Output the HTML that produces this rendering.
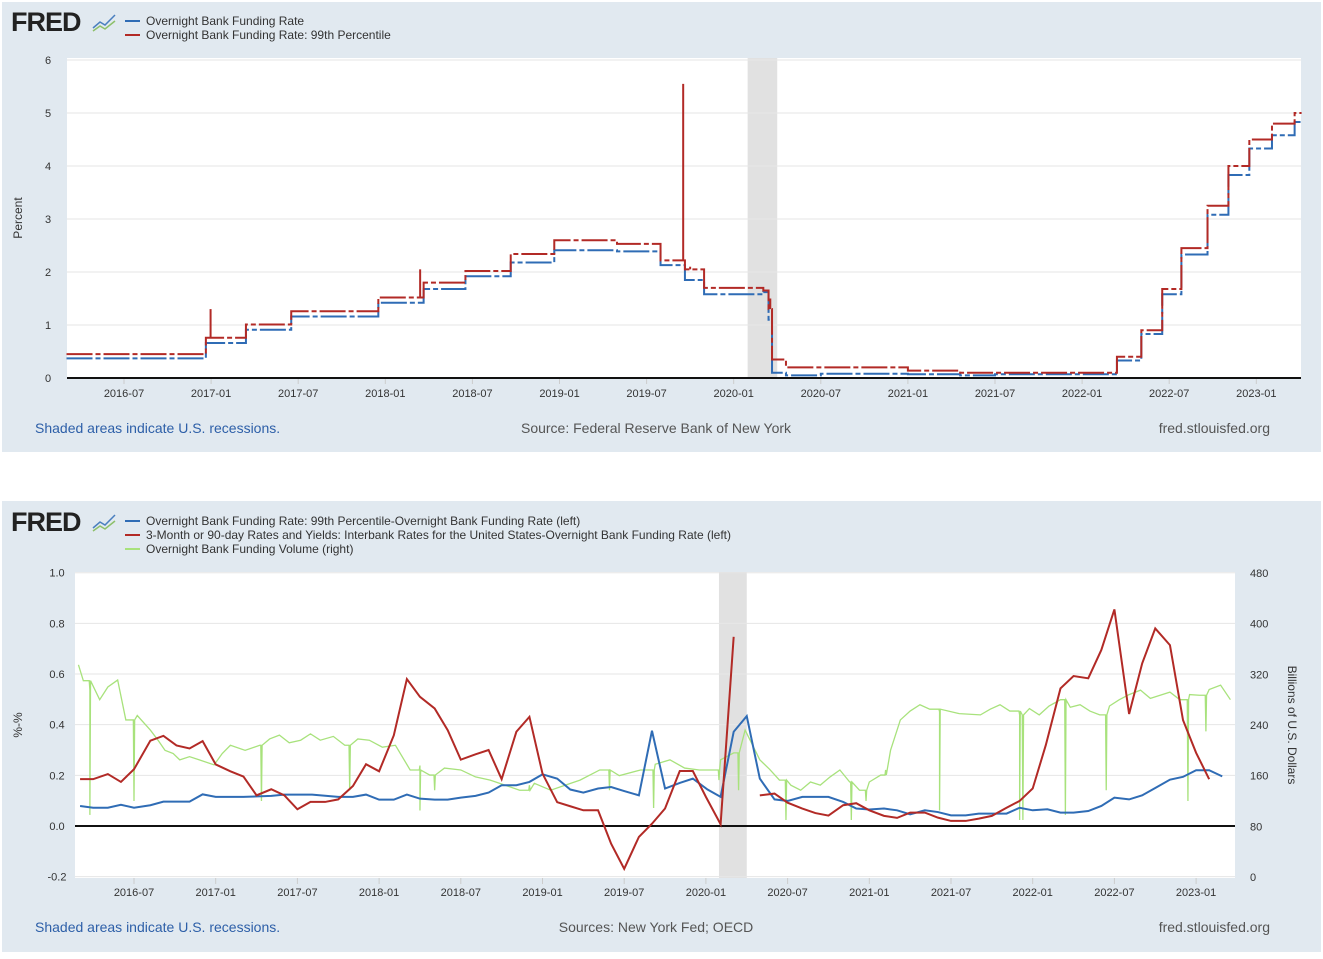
<!DOCTYPE html>
<html><head><meta charset="utf-8">
<style>
body{margin:0;background:#fff;width:1323px;height:954px;overflow:hidden;font-family:"Liberation Sans",sans-serif;}
svg text{font-family:"Liberation Sans",sans-serif;}
</style></head>
<body>
<svg id="page" width="1323" height="954" xmlns="http://www.w3.org/2000/svg">
<rect x="2" y="2" width="1319" height="450" fill="#e1e9f0"/>
<rect x="2" y="501" width="1319" height="451" fill="#e1e9f0"/>
<rect x="67" y="58" width="1234" height="320" fill="#fff"/>
<rect x="75" y="572" width="1160" height="306" fill="#fff"/>

<g>
<text x="11" y="31" font-size="27" font-weight="bold" fill="#222" letter-spacing="-1">FRED</text>
<path d="M93 28 L100 22 L105 25 L115 15" stroke="#4a7fbf" stroke-width="1.5" fill="none"/>
<path d="M93 31 L100 26 L105 29 L115 21" stroke="#8dc06a" stroke-width="1.5" fill="none"/>
<line x1="125" y1="21" x2="140" y2="21" stroke="#2f6cb5" stroke-width="2"/>
<text x="146" y="25" font-size="12" fill="#333">Overnight Bank Funding Rate</text>
<line x1="125" y1="35" x2="140" y2="35" stroke="#b22a26" stroke-width="2"/>
<text x="146" y="39" font-size="12" fill="#333">Overnight Bank Funding Rate: 99th Percentile</text>
</g>
<g>
<text x="11" y="531" font-size="27" font-weight="bold" fill="#222" letter-spacing="-1">FRED</text>
<path d="M93 528 L100 522 L105 525 L115 515" stroke="#4a7fbf" stroke-width="1.5" fill="none"/>
<path d="M93 531 L100 526 L105 529 L115 521" stroke="#8dc06a" stroke-width="1.5" fill="none"/>
<line x1="125" y1="521" x2="140" y2="521" stroke="#2f6cb5" stroke-width="2"/>
<text x="146" y="525" font-size="12" fill="#333">Overnight Bank Funding Rate: 99th Percentile-Overnight Bank Funding Rate (left)</text>
<line x1="125" y1="535" x2="140" y2="535" stroke="#b22a26" stroke-width="2"/>
<text x="146" y="539" font-size="12" fill="#333">3-Month or 90-day Rates and Yields: Interbank Rates for the United States-Overnight Bank Funding Rate (left)</text>
<line x1="125" y1="549" x2="140" y2="549" stroke="#a8e27c" stroke-width="2"/>
<text x="146" y="553" font-size="12" fill="#333">Overnight Bank Funding Volume (right)</text>
</g>

<g id="topAxes"></g><g id="topSeries"></g>
<g id="botAxes"></g><g id="botSeries"></g>

<text x="22" y="218" font-size="12" fill="#333" transform="rotate(-90 22 218)" text-anchor="middle">Percent</text>
<text x="22" y="725" font-size="12" fill="#333" transform="rotate(-90 22 725)" text-anchor="middle">%-%</text>
<text x="1288" y="725" font-size="12" fill="#333" transform="rotate(90 1288 725)" text-anchor="middle">Billions of U.S. Dollars</text>

<text x="35" y="433" font-size="14" fill="#2d5fa8">Shaded areas indicate U.S. recessions.</text>
<text x="656" y="433" font-size="14" fill="#555" text-anchor="middle">Source: Federal Reserve Bank of New York</text>
<text x="1270" y="433" font-size="14" fill="#555" text-anchor="end">fred.stlouisfed.org</text>
<text x="35" y="932" font-size="14" fill="#2d5fa8">Shaded areas indicate U.S. recessions.</text>
<text x="656" y="932" font-size="14" fill="#555" text-anchor="middle">Sources: New York Fed; OECD</text>
<text x="1270" y="932" font-size="14" fill="#555" text-anchor="end">fred.stlouisfed.org</text>
</svg>
<script>
// ---------- TOP CHART DATA ----------
const xTickLabels = ["2016-07","2017-01","2017-07","2018-01","2018-07","2019-01","2019-07","2020-01","2020-07","2021-01","2021-07","2022-01","2022-07","2023-01"];
const xTickDates = [2016.5,2017,2017.5,2018,2018.5,2019,2019.5,2020,2020.5,2021,2021.5,2022,2022.5,2023];
const topYTicks = [0,1,2,3,4,5,6];
const stepDates = [2016.17,2016.97,2017.2,2017.46,2017.96,2018.22,2018.46,2018.72,2018.97,2019.33,2019.58,2019.72,2019.83,2020.17,2020.20,2020.22,2020.30,2020.5,2021.0,2021.3,2021.5,2022.2,2022.34,2022.46,2022.57,2022.72,2022.84,2022.96,2023.09,2023.22,2023.26];
const obfrVals = [0.37,0.66,0.91,1.16,1.42,1.68,1.92,2.18,2.41,2.39,2.13,1.85,1.58,1.62,1.1,0.1,0.05,0.08,0.07,0.05,0.07,0.33,0.83,1.58,2.33,3.08,3.83,4.33,4.58,4.83,4.83];
const p99Vals = [0.45,0.76,1.01,1.26,1.52,1.80,2.02,2.34,2.60,2.53,2.22,2.05,1.70,1.65,1.3,0.35,0.20,0.20,0.14,0.10,0.10,0.40,0.90,1.68,2.45,3.25,4.00,4.50,4.80,5.00,5.00];
const spikeDates = [2016.997,2018.2,2019.71,2019.75,2020.21];
const spikeVals = [1.30,2.05,5.55,2.10,1.50];
const recessionStart = 2020.08, recessionEnd = 2020.25;

// ---------- BOTTOM CHART DATA ----------
const botYTicks = [-0.2,0,0.2,0.4,0.6,0.8,1.0];
const rightTicks = [0,80,160,240,320,400,480];
const blueDates = [2016.17,2016.25,2016.34,2016.42,2016.5,2016.6,2016.68,2016.84,2016.92,2017.0,2017.17,2017.34,2017.42,2017.59,2017.75,2017.84,2017.92,2018.0,2018.09,2018.17,2018.25,2018.34,2018.42,2018.5,2018.59,2018.67,2018.75,2018.84,2018.92,2019.0,2019.09,2019.17,2019.25,2019.34,2019.42,2019.5,2019.59,2019.67,2019.75,2019.84,2019.92,2020.01,2020.09,2020.17,2020.25,2020.33,2020.42,2020.5,2020.59,2020.75,2020.84,2020.92,2021.0,2021.09,2021.17,2021.25,2021.34,2021.42,2021.5,2021.59,2021.67,2021.84,2021.92,2022.0,2022.09,2022.17,2022.25,2022.34,2022.42,2022.5,2022.59,2022.67,2022.75,2022.84,2022.92,2023.0,2023.08,2023.16];
const blueVals = [.079,.072,.072,.084,.072,.082,.096,.096,.125,.115,.115,.119,.124,.124,.115,.115,.124,.104,.104,.124,.108,.104,.104,.112,.119,.132,.161,.161,.174,.204,.187,.144,.132,.148,.154,.138,.121,.376,.148,.17,.187,.144,.115,.372,.434,.187,.105,.099,.115,.115,.095,.069,.065,.069,.062,.046,.062,.055,.042,.042,.049,.049,.072,.062,.066,.053,.053,.059,.079,.112,.105,.121,.15,.183,.194,.22,.22,.196];
const redDates1 = [2016.17,2016.25,2016.34,2016.42,2016.5,2016.6,2016.68,2016.76,2016.84,2016.92,2017.0,2017.09,2017.17,2017.25,2017.34,2017.42,2017.5,2017.58,2017.67,2017.75,2017.84,2017.92,2018.0,2018.09,2018.17,2018.25,2018.34,2018.42,2018.5,2018.59,2018.67,2018.75,2018.84,2018.92,2019.0,2019.09,2019.17,2019.25,2019.34,2019.42,2019.5,2019.59,2019.67,2019.75,2019.84,2019.92,2020.0,2020.09,2020.17];
const redVals1 = [.185,.185,.205,.174,.224,.337,.356,.318,.306,.335,.243,.216,.195,.121,.145,.121,.066,.095,.095,.105,.158,.244,.216,.358,.58,.51,.464,.378,.262,.283,.30,.185,.372,.431,.207,.094,.078,.062,.062,-.07,-.169,-.043,.009,.069,.217,.217,.115,.007,.747];
const redDates2 = [2020.33,2020.42,2020.5,2020.59,2020.67,2020.75,2020.84,2020.92,2021.0,2021.09,2021.17,2021.25,2021.34,2021.42,2021.5,2021.59,2021.67,2021.75,2021.84,2021.92,2022.0,2022.08,2022.17,2022.25,2022.34,2022.42,2022.5,2022.59,2022.67,2022.75,2022.84,2022.92,2023.0,2023.08];
const redVals2 = [.121,.128,.092,.069,.051,.041,.082,.090,.062,.04,.032,.053,.053,.033,.02,.02,.029,.04,.072,.099,.148,.319,.543,.592,.583,.695,.855,.442,.642,.78,.714,.418,.289,.185];
const volDates = [2016.16,2016.19,2016.23,2016.29,2016.34,2016.40,2016.45,2016.52,2016.60,2016.65,2016.69,2016.74,2016.78,2016.84,2016.90,2016.99,2017.04,2017.09,2017.18,2017.27,2017.33,2017.39,2017.45,2017.52,2017.58,2017.64,2017.72,2017.79,2017.87,2017.94,2018.02,2018.10,2018.19,2018.25,2018.31,2018.40,2018.50,2018.59,2018.68,2018.77,2018.86,2018.95,2019.05,2019.14,2019.23,2019.35,2019.47,2019.60,2019.69,2019.78,2019.87,2019.96,2020.09,2020.17,2020.24,2020.33,2020.39,2020.45,2020.52,2020.58,2020.64,2020.70,2020.76,2020.82,2020.88,2020.94,2021.0,2021.07,2021.13,2021.19,2021.25,2021.31,2021.37,2021.43,2021.55,2021.68,2021.74,2021.80,2021.86,2021.92,2021.98,2022.04,2022.10,2022.17,2022.23,2022.29,2022.35,2022.41,2022.47,2022.53,2022.59,2022.66,2022.72,2022.78,2022.84,2022.90,2022.96,2023.02,2023.08,2023.15,2023.21];
const volVals = [335,310,295,280,300,311,248,255,232,215,200,195,185,190,185,177,195,208,200,208,218,224,212,216,226,216,222,208,218,216,205,208,169,176,161,172,169,158,153,145,137,148,137,145,153,169,160,169,178,185,172,169,185,196,232,185,170,153,145,137,150,145,158,169,150,137,150,161,200,248,262,272,265,261,258,256,265,272,262,256,266,256,270,280,268,272,262,256,270,280,288,295,282,287,292,280,288,287,296,303,280];
const volDipDates = [2016.23,2016.5,2017.28,2017.82,2018.25,2018.34,2018.92,2019.41,2019.68,2020.08,2020.2,2020.49,2020.89,2020.98,2021.1,2021.43,2021.92,2021.94,2022.2,2022.45,2022.95,2023.06];
const volDipVals = [98,120,120,137,105,137,145,137,109,153,137,90,90,120,169,105,90,90,98,137,120,230];

const NS="http://www.w3.org/2000/svg";
function mk(parent,tag,attrs){const e=document.createElementNS(NS,tag);for(const k in attrs)e.setAttribute(k,attrs[k]);parent.appendChild(e);return e;}

const txT=t=>124+(t-2016.5)*174.2, tyT=v=>378-v*53;
const tAx=document.getElementById('topAxes');
const tSer=document.getElementById('topSeries');
const rT=mk(tAx,'rect',{x:txT(recessionStart),y:58,width:txT(recessionEnd)-txT(recessionStart),height:320,fill:'#e1e1e1'});


topYTicks.forEach(v=>{
  if(v>0){const g=mk(tAx,'line',{x1:67,x2:1301,y1:tyT(v),y2:tyT(v),stroke:'#e6e6e6','stroke-width':1});
  
  }
  const t=mk(tAx,'text',{x:48,y:tyT(v)+4,'font-size':11,fill:'#333','text-anchor':'middle'});t.textContent=v;
  
  
});
xTickDates.forEach((d,i)=>{
  const t=mk(tAx,'text',{x:txT(d),y:397,'font-size':11,fill:'#333','text-anchor':'middle'});t.textContent=xTickLabels[i];
  
  
  mk(tAx,'line',{x1:txT(d),x2:txT(d),y1:378,y2:384,stroke:'#ccc'});
});
function stepPath(dates,vals){let d='';for(let i=0;i<dates.length;i++){const x=txT(dates[i]),y=tyT(vals[i]);d+=(i?'L'+x+' '+tyT(vals[i-1])+' ':'M')+x+' '+y+' ';}return d;}
const pb=mk(tSer,'path',{d:stepPath(stepDates,obfrVals),stroke:'#2f6cb5','stroke-width':2,fill:'none','stroke-dasharray':'26 3 5 3'});


const pr=mk(tSer,'path',{d:stepPath(stepDates,p99Vals),stroke:'#b22a26','stroke-width':2,fill:'none','stroke-dasharray':'26 3 5 3'});


spikeDates.forEach((d,i)=>{
  let base=p99Vals[0];for(let j=0;j<stepDates.length;j++)if(stepDates[j]<=d)base=p99Vals[j];
  const s=mk(tSer,'line',{x1:txT(d),x2:txT(d),y1:tyT(base),y2:tyT(spikeVals[i]),stroke:'#b22a26','stroke-width':2});
  
  
});
mk(tAx,'line',{x1:67,x2:1301,y1:378,y2:378,stroke:'#111','stroke-width':2});

const txB=t=>134+(t-2016.5)*163.4, tyB=v=>826-v*253.3, tyR=b=>877-b*0.6333;
const bAx=document.getElementById('botAxes');
const bSer=document.getElementById('botSeries');
const rB=mk(bAx,'rect',{x:txB(recessionStart),y:572,width:txB(recessionEnd)-txB(recessionStart),height:306,fill:'#e1e1e1'});


botYTicks.forEach(v=>{
  const g=mk(bAx,'line',{x1:75,x2:1235,y1:tyB(v),y2:tyB(v),stroke:'#e6e6e6','stroke-width':1});
  
  
  const t=mk(bAx,'text',{x:57,y:tyB(v)+4,'font-size':11,fill:'#333','text-anchor':'middle'});t.textContent=v.toFixed(1);
  
  
});
rightTicks.forEach(b=>{
  const t=mk(bAx,'text',{x:1250,y:tyR(b)+4,'font-size':11,fill:'#333'});t.textContent=b;
  
  
});
xTickDates.forEach((d,i)=>{
  const t=mk(bAx,'text',{x:txB(d),y:896,'font-size':11,fill:'#333','text-anchor':'middle'});t.textContent=xTickLabels[i];
  
  
  mk(bAx,'line',{x1:txB(d),x2:txB(d),y1:878,y2:884,stroke:'#ccc'});
});
let vpts=volDates.map((d,i)=>[d,volVals[i]]);
volDipDates.forEach((d,i)=>{let j=0;while(j<volDates.length-1&&volDates[j+1]<d)j++;const base=volVals[j];vpts.push([d-0.004,base]);vpts.push([d,volDipVals[i]]);vpts.push([d+0.004,base]);});
vpts.sort((a,b)=>a[0]-b[0]);
const gl=mk(bSer,'polyline',{points:vpts.map(p=>txB(p[0])+','+tyR(p[1])).join(' '),stroke:'#a8e27c','stroke-width':1.3,fill:'none'});


mk(bAx,'line',{x1:75,x2:1235,y1:826,y2:826,stroke:'#111','stroke-width':2});
const bl=mk(bSer,'polyline',{points:blueDates.map((d,i)=>txB(d)+','+tyB(blueVals[i])).join(' '),stroke:'#2f6cb5','stroke-width':2,fill:'none'});


const r1=mk(bSer,'polyline',{points:redDates1.map((d,i)=>txB(d)+','+tyB(redVals1[i])).join(' '),stroke:'#b22a26','stroke-width':2,fill:'none'});


const r2=mk(bSer,'polyline',{points:redDates2.map((d,i)=>txB(d)+','+tyB(redVals2[i])).join(' '),stroke:'#b22a26','stroke-width':2,fill:'none'});


</script>
</body></html>
